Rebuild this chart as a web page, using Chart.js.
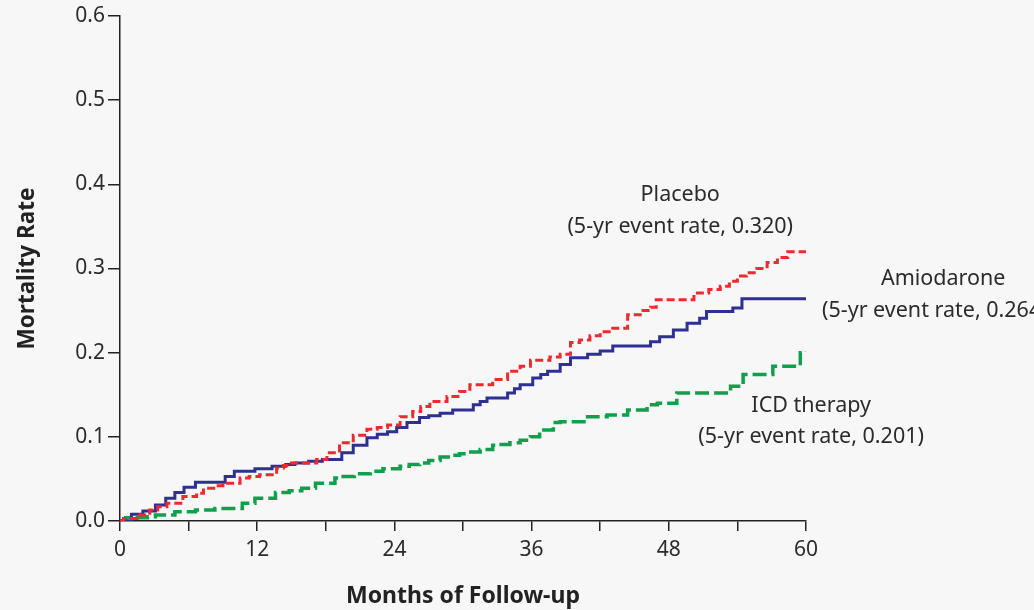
<!DOCTYPE html>
<html>
<head>
<meta charset="utf-8">
<script src="https://cdn.jsdelivr.net/npm/chart.js@4/dist/chart.umd.min.js"></script>
<style>
  html, body { margin: 0; padding: 0; background: #f7f7f7; }
  #wrap { width: 1034px; height: 610px; }
</style>
</head>
<body>
<div id="wrap"><canvas id="myChart" width="1034" height="610"></canvas></div>
<script>
// Kaplan-Meier style curves (months, cumulative mortality)
const placeboMonths = [0, 0.3, 1.5, 2.6, 3.3, 4.1, 5.5, 6.7, 7.3, 8.2, 9, 10.5, 11.3, 12.2, 13.7, 14.3, 15, 17.2, 18.1, 19.2,
    20.4, 21.6, 22.5, 23.4, 24.5, 25.6, 26.3, 27.1, 28.6, 29.7, 30.6, 32.6, 33.9, 35, 35.9, 37.6, 38.5, 39.4, 40.2, 41.1,
    42, 43.1, 44.4, 45.5, 46.4, 46.9, 50.2, 51.5, 52.5, 53.3, 54, 54.8, 55.7, 56.6, 57.5, 58.4, 60];
const placeboRates = [0, 0.003, 0.007, 0.013, 0.017, 0.021, 0.029, 0.033, 0.039, 0.042, 0.045, 0.051, 0.053, 0.055, 0.063, 0.066, 0.069, 0.073, 0.081, 0.093,
    0.102, 0.109, 0.111, 0.114, 0.124, 0.13, 0.136, 0.142, 0.148, 0.154, 0.162, 0.168, 0.178, 0.184, 0.191, 0.195, 0.198, 0.212, 0.215, 0.22,
    0.225, 0.229, 0.245, 0.25, 0.254, 0.263, 0.271, 0.275, 0.279, 0.285, 0.291, 0.295, 0.3, 0.307, 0.313, 0.32, 0.32];

const amioMonths = [0, 1, 2, 3.1, 4, 4.8, 5.6, 6.6, 9.2, 10, 11.8, 13.3, 14.5, 15.3, 16.5, 17.7, 19.4, 20.4, 21.6, 22.5,
    23.4, 24.2, 25.1, 26.2, 27, 28, 29.1, 30.9, 31.5, 32.1, 33.9, 34.5, 35, 36.1, 36.8, 37.4, 38.5, 39.4, 40.9, 42,
    43.1, 46.4, 47.2, 48.4, 49.6, 50.7, 51.3, 53.6, 54.4, 60];
const amioRates = [0, 0.008, 0.012, 0.019, 0.027, 0.034, 0.04, 0.046, 0.053, 0.059, 0.062, 0.065, 0.067, 0.069, 0.071, 0.073, 0.081, 0.09, 0.099, 0.103,
    0.106, 0.111, 0.117, 0.123, 0.125, 0.128, 0.132, 0.138, 0.142, 0.146, 0.152, 0.157, 0.162, 0.17, 0.174, 0.178, 0.186, 0.194, 0.198, 0.202,
    0.208, 0.213, 0.219, 0.227, 0.235, 0.241, 0.249, 0.253, 0.264, 0.264];

const icdMonths = [0, 0.5, 2.4, 3.1, 4.8, 6.6, 8.3, 10.7, 11.8, 13.6, 14.8, 15.9, 17.1, 18.8, 19.2, 20.5, 21.9, 23, 24.5, 25.3,
    26.2, 27, 28, 29, 29.7, 30.5, 31.5, 32.6, 33, 34.1, 35, 35.9, 36.7, 37.9, 38.5, 40.9, 42.6, 44.4, 46.1, 47,
    48.7, 53.4, 54.5, 57.1, 59.5, 60];
const icdRates = [0, 0.004, 0.005, 0.007, 0.011, 0.013, 0.015, 0.021, 0.027, 0.034, 0.036, 0.039, 0.045, 0.051, 0.053, 0.056, 0.059, 0.062, 0.065, 0.067,
    0.069, 0.072, 0.076, 0.078, 0.08, 0.082, 0.085, 0.09, 0.091, 0.093, 0.096, 0.1, 0.108, 0.117, 0.118, 0.124, 0.126, 0.132, 0.138, 0.14,
    0.152, 0.16, 0.174, 0.184, 0.2, 0.201];

const xTicks = [0, 12, 24, 36, 48, 60];
const yTicks = [0, 0.1, 0.2, 0.3, 0.4, 0.5, 0.6];

// curve labels, anchored in data space: [month, rate, text, align]
const curveLabels = [
    [49.0, 0.388, 'Placebo', 'center'],
    [49.0, 0.349, '(5-yr event rate, 0.320)', 'center'],
    [72.0, 0.288, 'Amiodarone', 'center'],
    [61.4, 0.250, '(5-yr event rate, 0.264)', 'left'],
    [60.45, 0.137, 'ICD therapy', 'center'],
    [60.45, 0.100, '(5-yr event rate, 0.201)', 'center']
];

const FONT = '"Noto Sans", sans-serif';

function toPoints(xs, ys) {
    return xs.map((x, i) => ({ x: x, y: ys[i] }));
}

const bgPlugin = {
    id: 'bg',
    beforeDraw(chart) {
        const c = chart.ctx;
        c.save();
        c.fillStyle = '#f7f7f7';
        c.fillRect(0, 0, chart.width, chart.height);
        c.restore();
    }
};

const labelPlugin = {
    id: 'curveLabels',
    afterDraw(chart) {
        const c = chart.ctx;
        const xs = chart.scales.x, ys = chart.scales.y;
        c.save();
        c.font = '21.5px ' + FONT;
        c.fillStyle = '#2b2b2b';
        c.textBaseline = 'middle';
        curveLabels.forEach(l => {
            c.textAlign = l[3];
            c.fillText(l[2], xs.getPixelForValue(l[0]), ys.getPixelForValue(l[1]));
        });
        c.restore();
    }
};

const ctx = document.getElementById('myChart').getContext('2d');
new Chart(ctx, {
    type: 'line',
    data: {
        datasets: [
            {
                label: 'Placebo',
                data: toPoints(placeboMonths, placeboRates),
                borderColor: '#ee2a2e',
                borderWidth: 3,
                borderDash: [8, 4],
                stepped: true,
                pointRadius: 0,
                fill: false
            },
            {
                label: 'Amiodarone',
                data: toPoints(amioMonths, amioRates),
                borderColor: '#2e3192',
                borderWidth: 3,
                stepped: true,
                pointRadius: 0,
                fill: false
            },
            {
                label: 'ICD therapy',
                data: toPoints(icdMonths, icdRates),
                borderColor: '#0ea04b',
                borderWidth: 3.5,
                borderDash: [14, 5],
                stepped: true,
                pointRadius: 0,
                fill: false
            }
        ]
    },
    options: {
        responsive: false,
        animation: false,
        events: [],
        layout: { padding: { top: 16, right: 228, left: 0, bottom: 0 } },
        plugins: {
            legend: { display: false },
            tooltip: { enabled: false }
        },
        scales: {
            x: {
                type: 'linear',
                min: 0,
                max: 60,
                afterFit: s => { s.height = 89; },
                afterBuildTicks: s => { s.ticks = [0, 6, 12, 18, 24, 30, 36, 42, 48, 54, 60].map(v => ({ value: v })); },
                ticks: {
                    autoSkip: false,
                    maxRotation: 0,
                    padding: 6,
                    color: '#2b2b2b',
                    font: { family: FONT, size: 21 },
                    callback: v => xTicks.includes(v) ? String(v) : ''
                },
                grid: {
                    drawOnChartArea: false,
                    tickLength: 10,
                    color: '#222',
                    lineWidth: 1.5
                },
                border: { color: '#222', width: 1.5 },
                title: {
                    display: true,
                    text: 'Months of Follow-up',
                    color: '#222',
                    font: { family: FONT, size: 23, weight: 'bold' },
                    padding: { top: 0, bottom: 0 }
                }
            },
            y: {
                min: 0,
                max: 0.6,
                afterFit: s => { s.width = 120; },
                afterBuildTicks: s => { s.ticks = yTicks.map(v => ({ value: v })); },
                ticks: {
                    padding: 3,
                    color: '#2b2b2b',
                    font: { family: FONT, size: 21 },
                    callback: v => v.toFixed(1)
                },
                grid: {
                    drawOnChartArea: false,
                    tickLength: 12,
                    color: '#222',
                    lineWidth: 1.5
                },
                border: { color: '#222', width: 1.5 },
                title: {
                    display: true,
                    text: 'Mortality Rate',
                    color: '#222',
                    font: { family: FONT, size: 22.5, weight: 'bold' },
                    padding: { top: 14, bottom: 0 }
                }
            }
        }
    },
    plugins: [bgPlugin, labelPlugin]
});
</script>
</body>
</html>
